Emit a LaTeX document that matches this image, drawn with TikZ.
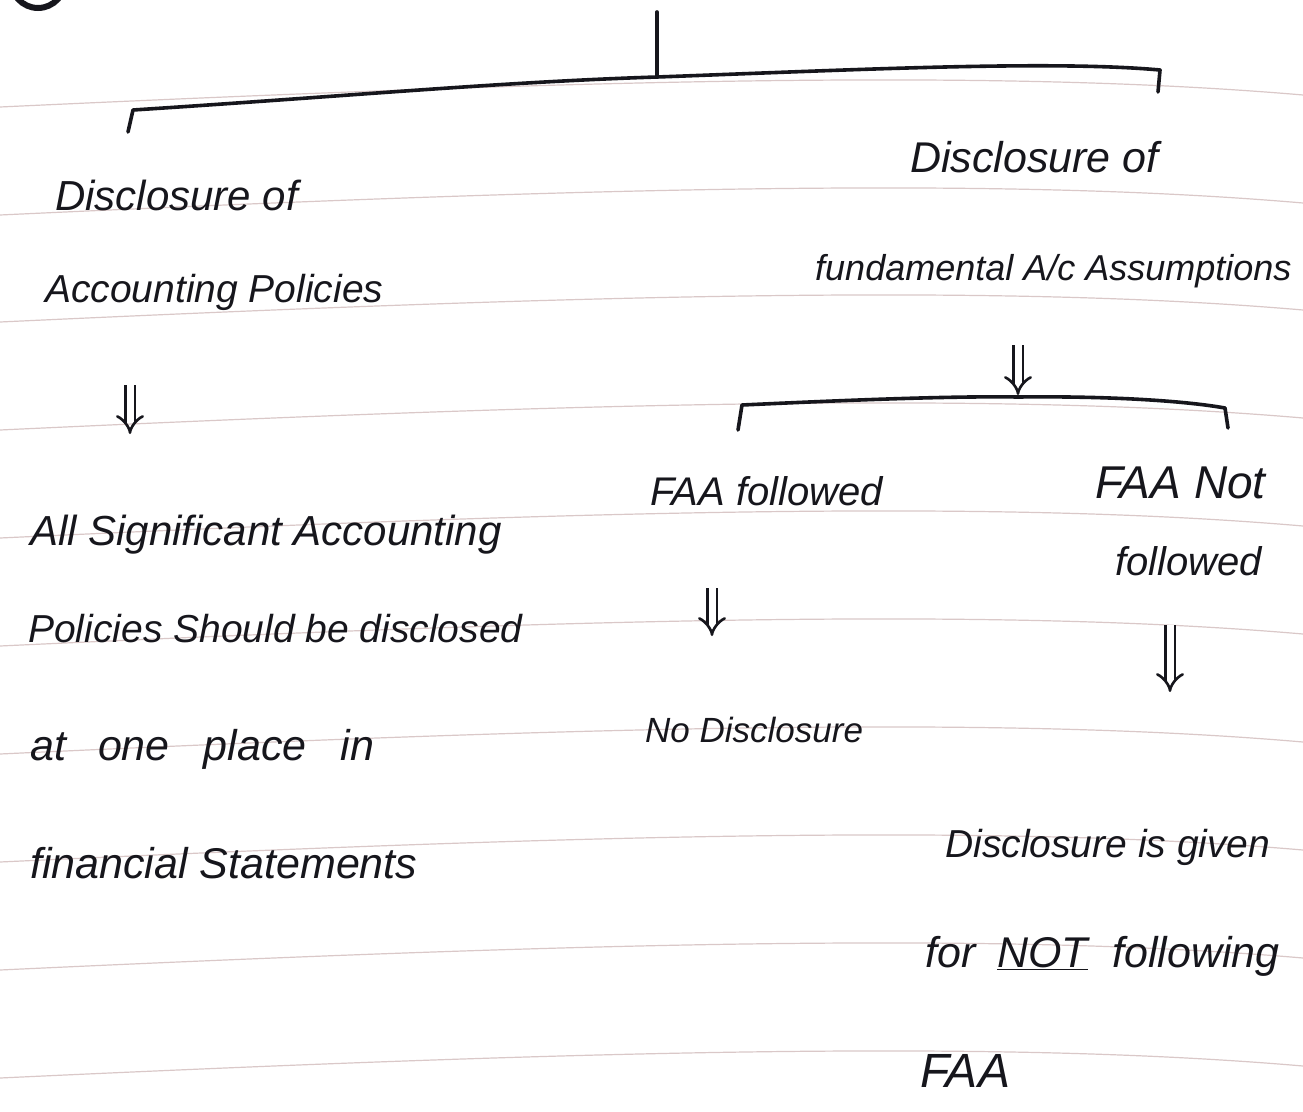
\documentclass[tikz,border=0pt]{standalone}
\usepackage{fontspec}
\setmainfont{Liberation Sans}
\usetikzlibrary{arrows.meta}
\definecolor{ink}{RGB}{22,22,28}
\definecolor{rulec}{RGB}{218,200,200}
\tikzset{
  hand/.style={font=\fontsize{#1}{#1}\selectfont\itshape, text=ink, inner sep=0pt, anchor=base west},
  hand/.default=40,
  stroke/.style={draw=ink, line width=3.6pt, line cap=round, line join=round},
  dbl/.style={draw=ink, line width=2.6pt, double distance=7pt, -{Implies[length=11pt]}},
  ruled/.style={draw=rulec, line width=1.2pt}
}
\begin{document}
\begin{tikzpicture}[x=1pt,y=-1pt]
\useasboundingbox (0,0) rectangle (1303,1111);
\fill[white] (0,0) rectangle (1303,1111);
% ruled paper
\foreach \y in {107,215,322,430,538,646,754,862,970,1078}
  \draw[ruled] (0,\y) .. controls (600,\y-28) and (1000,\y-38) .. (1303,\y-12);
% partial circle at top left
\draw[ink, line width=6pt] (38,-22) ellipse [x radius=28, y radius=30];

% main bracket
\coordinate (top) at (657,12);
\coordinate (j1) at (657,77);
\coordinate (bl) at (133,110);
\coordinate (blt) at (128,132);
\coordinate (br) at (1160,70);
\coordinate (brt) at (1158,92);
\draw[stroke] (top) -- (j1);
\draw[stroke] (blt) -- (bl) .. controls (350,96) and (500,82) .. (j1) .. controls (850,70) and (1050,60) .. (br) -- (brt);

% left branch
\node[hand=42] (t1) at (55,210) {Disclosure of};
\node[hand=39] (t2) at (45,302) {Accounting Policies};
\coordinate (a1s) at (130,385);
\coordinate (a1e) at (130,434);
\draw[dbl] (a1s) -- (a1e);
\node[hand=42] (t3) at (30,545) {All Significant Accounting};
\node[hand=39] (t4) at (28,642) {Policies Should be disclosed};
\node[hand=43] (t5) at (30,760) {at\hspace{32pt}one\hspace{34pt}place\hspace{34pt}in};
\node[hand=43] (t6) at (30,878) {financial Statements};

% right branch
\node[hand=43] (r1) at (910,172) {Disclosure of};
\node[hand=36] (r2) at (815,280) {fundamental A/c Assumptions};
\coordinate (a2s) at (1018,345);
\coordinate (a2e) at (1018,395);
\draw[dbl] (a2s) -- (a2e);

% second bracket
\coordinate (j2) at (1018,397);
\coordinate (cl) at (742,405);
\coordinate (clt) at (738,430);
\coordinate (cr) at (1225,408);
\coordinate (crt) at (1228,428);
\draw[stroke] (clt) -- (cl) .. controls (850,400) and (950,396) .. (j2) .. controls (1100,396) and (1180,400) .. (cr) -- (crt);

\node[hand=40] (f1) at (650,505) {FAA followed};
\coordinate (a3s) at (712,588);
\coordinate (a3e) at (712,636);
\draw[dbl] (a3s) -- (a3e);
\node[hand=35] (n1) at (645,742) {No Disclosure};

\node[hand=46] (f2) at (1095,498) {FAA Not};
\node[hand=40] (f3) at (1115,575) {followed};
\coordinate (a4s) at (1170,625);
\coordinate (a4e) at (1170,692);
\draw[dbl] (a4s) -- (a4e);

\node[hand=39] (d1) at (945,857) {Disclosure is given};
\node[hand=43] (d2) at (925,967) {for\hspace{22pt}\underline{NOT}\hspace{24pt}following};
\node[hand=48] (d3) at (920,1087) {FAA};
\end{tikzpicture}
\end{document}
